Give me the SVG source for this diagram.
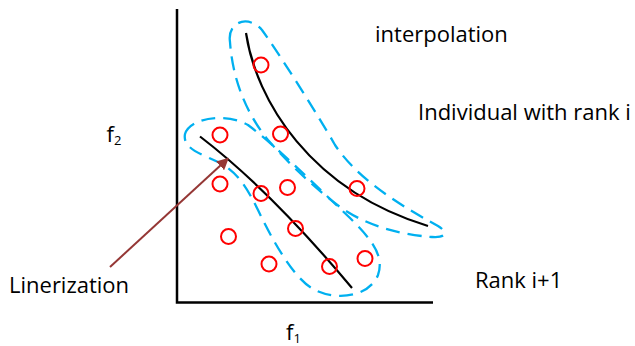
<svg xmlns="http://www.w3.org/2000/svg" width="635" height="346" viewBox="0 0 635 346">
<defs>
<style>
.t{font-family:"Open Sans","Liberation Sans",sans-serif;font-size:22px;fill:#000}
.s{font-family:"Open Sans","Liberation Sans",sans-serif;font-size:13px;fill:#000}
.ax{stroke:#000;stroke-width:2.5;fill:none}
.crv{stroke:#000;stroke-width:2.2;fill:none}
.env{stroke:#00B0F0;stroke-width:2.3;fill:none;stroke-dasharray:14 8}
.pt{stroke:#FF0000;stroke-width:2;fill:none}
</style>
<marker id="ah" viewBox="0 0 10 10" refX="9" refY="5" markerWidth="6" markerHeight="6" orient="auto" markerUnits="strokeWidth">
<path d="M0,0 L10,5 L0,10 Z" fill="#953735"/>
</marker>
</defs>
<rect width="635" height="346" fill="#fff"/>
<g id="axes">
<path class="ax" d="M177,9 V302.5 H433"/>
</g>
<g id="envelope-upper">
<path class="env" d="M230,42 C227,22 248,14 262,30 C280,55 318,115 335,145 C355,175 390,200 438,226 C448,232 447,238 432,237 C405,235 370,228 340,207 C315,188 290,165 268,140 C250,118 233,85 230,42 Z"/>
</g>
<g id="envelope-lower">
<path class="env" d="M185,134 C190,118 225,112 248,125 C275,145 315,185 350,218 C370,238 385,255 378,275 C370,295 340,302 315,290 C298,282 278,252 258,210 C248,190 240,175 222,164 C205,155 182,150 185,134 Z"/>
</g>
<g id="curve-rank-i">
<path class="crv" d="M246,33 C256,100 310,190 428,226"/>
</g>
<g id="curve-rank-i1">
<path class="crv" d="M200,136.5 Q270,190 352,288"/>
</g>
<g id="points">
<circle class="pt" cx="261" cy="65" r="7.5"/>
<circle class="pt" cx="220" cy="135" r="7.5"/>
<circle class="pt" cx="280.5" cy="134" r="7.5"/>
<circle class="pt" cx="220" cy="184" r="7.5"/>
<circle class="pt" cx="261" cy="193.5" r="7.5"/>
<circle class="pt" cx="287.5" cy="187.5" r="7.5"/>
<circle class="pt" cx="357" cy="188.5" r="7.5"/>
<circle class="pt" cx="295.5" cy="228.5" r="7.5"/>
<circle class="pt" cx="228.5" cy="236.5" r="7.5"/>
<circle class="pt" cx="269" cy="264" r="7.5"/>
<circle class="pt" cx="329.5" cy="266.5" r="7.5"/>
<circle class="pt" cx="365" cy="258.5" r="7.5"/>
</g>
<g id="connectors">
<path d="M110,267 L228,158.5" stroke="#953735" stroke-width="2" fill="none" marker-end="url(#ah)"/>
</g>
<g id="labels">
<text class="t" x="375" y="42">interpolation</text>
<text class="t" x="418" y="120">Individual with rank i</text>
<text class="t" x="475" y="288">Rank i+1</text>
<text class="t" x="9" y="293">Linerization</text>
<text class="t" x="106.5" y="141.5">f<tspan class="s" dy="3">2</tspan></text>
<text class="t" x="286" y="339.5">f<tspan class="s" dy="3">1</tspan></text>
</g>
</svg>
